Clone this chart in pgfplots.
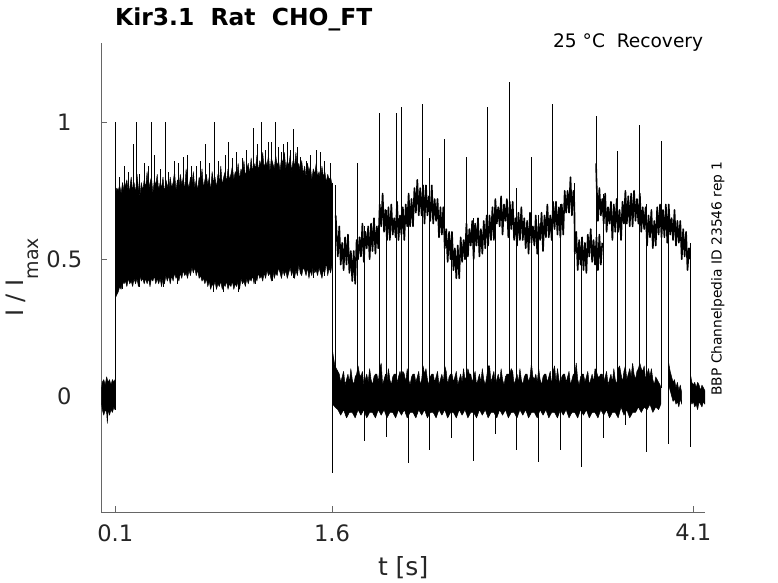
\documentclass[border=0pt]{standalone}
\usepackage{pgfplots}
\pgfplotsset{compat=1.18}
\usepackage{fontspec}
\setmainfont{DejaVu Sans}
\definecolor{axgray}{gray}{0.4}
\definecolor{txtgray}{gray}{0.15}
\begin{document}
\begin{tikzpicture}
\begin{axis}[name=ax, scale only axis, width=603.7bp, height=469bp,
 xmin=0.003, xmax=4.181, ymin=-0.425, ymax=1.289,
 axis x line*=bottom, axis y line*=left,
 axis line style={-, draw=axgray, line width=0.8bp},
 xtick={0.1,1.6,4.1}, ytick={0,0.5,1},
 tick align=inside, major tick length=6bp,
 tick style={draw=axgray, line width=0.8bp},
 /pgf/number format/assume math mode=true,
 ticklabel style={font=\fontsize{22.6bp}{27bp}\selectfont, text=txtgray},
 xticklabel style={inner sep=0pt, anchor=north, yshift=-12bp},
 yticklabel style={inner sep=0pt, anchor=center, xshift=-37bp},
 every axis plot/.append style={line join=round}]

% initial baseline segment
\addplot[fill=black, draw=black, line width=0.5bp] coordinates {
(0.003,0.02)(0.01,0.05)(0.02,0.06)(0.03,0.04)(0.04,0.07)(0.05,0.05)(0.06,0.06)(0.07,0.04)(0.08,0.06)(0.09,0.05)(0.098,0.06)
(0.098,-0.05)(0.09,-0.04)(0.08,-0.06)(0.07,-0.05)(0.06,-0.07)(0.05,-0.05)(0.045,-0.10)(0.04,-0.06)(0.03,-0.05)(0.02,-0.07)(0.01,-0.05)(0.003,-0.02)} -- cycle;

% first pulse band
\addplot[fill=black, draw=black, line width=0.5bp] coordinates {
(0.102,0.74)(0.11,0.76)(0.12,0.75)(0.13,0.77)(0.14,0.74)(0.15,0.78)(0.16,0.75)(0.17,0.77)(0.18,0.79)(0.19,0.74)
(0.20,0.76)(0.21,0.80)(0.22,0.75)(0.23,0.78)(0.24,0.74)(0.25,0.81)(0.26,0.76)(0.27,0.73)(0.28,0.78)(0.29,0.75)
(0.30,0.79)(0.31,0.76)(0.32,0.82)(0.33,0.75)(0.34,0.78)(0.35,0.80)(0.36,0.74)(0.37,0.79)(0.38,0.77)(0.39,0.81)
(0.40,0.75)(0.41,0.78)(0.42,0.76)(0.43,0.80)(0.44,0.74)(0.45,0.79)(0.46,0.77)(0.47,0.75)(0.48,0.80)(0.49,0.76)
(0.50,0.78)(0.51,0.82)(0.52,0.75)(0.53,0.79)(0.54,0.76)(0.55,0.81)(0.56,0.77)(0.57,0.80)(0.58,0.75)(0.59,0.83)
(0.60,0.78)(0.61,0.76)(0.62,0.80)(0.63,0.77)(0.64,0.82)(0.65,0.76)(0.66,0.79)(0.67,0.75)(0.68,0.80)(0.69,0.78)
(0.70,0.83)(0.71,0.76)(0.72,0.79)(0.73,0.81)(0.74,0.77)(0.75,0.80)(0.76,0.75)(0.77,0.82)(0.78,0.78)(0.79,0.80)
(0.80,0.76)(0.81,0.81)(0.82,0.78)(0.83,0.84)(0.84,0.77)(0.85,0.80)(0.86,0.82)(0.87,0.78)(0.88,0.83)(0.89,0.79)
(0.90,0.81)(0.91,0.84)(0.92,0.79)(0.93,0.82)(0.94,0.80)(0.95,0.85)(0.96,0.79)(0.97,0.83)(0.98,0.81)(0.99,0.86)
(1.00,0.80)(1.01,0.83)(1.02,0.85)(1.03,0.81)(1.04,0.87)(1.05,0.82)(1.06,0.85)(1.07,0.83)(1.08,0.88)(1.09,0.82)
(1.10,0.86)(1.11,0.84)(1.12,0.89)(1.13,0.83)(1.14,0.86)(1.15,0.84)(1.16,0.88)(1.17,0.82)(1.18,0.87)(1.19,0.85)
(1.20,0.83)(1.21,0.88)(1.22,0.84)(1.23,0.86)(1.24,0.82)(1.25,0.87)(1.26,0.85)(1.27,0.89)(1.28,0.83)(1.29,0.86)
(1.30,0.84)(1.31,0.88)(1.32,0.82)(1.33,0.86)(1.34,0.84)(1.35,0.89)(1.36,0.83)(1.37,0.85)(1.38,0.82)(1.39,0.86)
(1.40,0.81)(1.41,0.84)(1.42,0.80)(1.43,0.85)(1.44,0.82)(1.45,0.84)(1.46,0.79)(1.47,0.83)(1.48,0.81)(1.49,0.85)
(1.50,0.80)(1.51,0.82)(1.52,0.79)(1.53,0.84)(1.54,0.80)(1.55,0.82)(1.56,0.78)(1.57,0.81)(1.58,0.79)(1.59,0.80)(1.60,0.77)
(1.60,0.48)(1.59,0.45)(1.58,0.47)(1.57,0.44)(1.56,0.49)(1.55,0.45)(1.54,0.46)(1.53,0.43)(1.52,0.45)(1.51,0.47)
(1.50,0.44)(1.49,0.46)(1.48,0.45)(1.47,0.48)(1.46,0.44)(1.45,0.46)(1.44,0.43)(1.43,0.47)(1.42,0.44)(1.41,0.46)
(1.40,0.47)(1.39,0.44)(1.38,0.45)(1.37,0.48)(1.36,0.44)(1.35,0.46)(1.34,0.43)(1.33,0.46)(1.32,0.44)(1.31,0.47)
(1.30,0.45)(1.29,0.43)(1.28,0.46)(1.27,0.44)(1.26,0.46)(1.25,0.43)(1.24,0.45)(1.23,0.47)(1.22,0.44)(1.21,0.45)
(1.20,0.43)(1.19,0.46)(1.18,0.42)(1.17,0.45)(1.16,0.44)(1.15,0.46)(1.14,0.43)(1.13,0.45)(1.12,0.42)(1.11,0.44)
(1.10,0.43)(1.09,0.45)(1.08,0.42)(1.07,0.44)(1.06,0.41)(1.05,0.44)(1.04,0.42)(1.03,0.43)(1.02,0.41)(1.01,0.43)
(1.00,0.40)(0.99,0.42)(0.98,0.41)(0.97,0.43)(0.96,0.39)(0.95,0.42)(0.94,0.40)(0.93,0.41)(0.92,0.39)(0.91,0.42)
(0.90,0.40)(0.89,0.41)(0.88,0.39)(0.87,0.42)(0.86,0.40)(0.85,0.41)(0.84,0.39)(0.83,0.42)(0.82,0.40)(0.81,0.41)
(0.80,0.39)(0.79,0.42)(0.78,0.40)(0.77,0.41)(0.76,0.39)(0.75,0.42)(0.74,0.40)(0.73,0.43)(0.72,0.41)(0.71,0.43)
(0.70,0.42)(0.69,0.44)(0.68,0.43)(0.67,0.46)(0.66,0.44)(0.65,0.47)(0.64,0.45)(0.63,0.47)(0.62,0.44)(0.61,0.46)
(0.60,0.43)(0.59,0.45)(0.58,0.44)(0.57,0.46)(0.56,0.43)(0.55,0.45)(0.54,0.42)(0.53,0.44)(0.52,0.43)(0.51,0.45)
(0.50,0.42)(0.49,0.44)(0.48,0.41)(0.47,0.44)(0.46,0.42)(0.45,0.44)(0.44,0.41)(0.43,0.43)(0.42,0.40)(0.41,0.43)
(0.40,0.41)(0.39,0.43)(0.38,0.41)(0.37,0.44)(0.36,0.42)(0.35,0.43)(0.34,0.40)(0.33,0.43)(0.32,0.41)(0.31,0.43)
(0.30,0.41)(0.29,0.43)(0.28,0.42)(0.27,0.44)(0.26,0.40)(0.25,0.43)(0.24,0.41)(0.23,0.43)(0.22,0.40)(0.21,0.42)
(0.20,0.41)(0.19,0.43)(0.18,0.40)(0.17,0.42)(0.16,0.41)(0.15,0.42)(0.14,0.39)(0.13,0.40)(0.12,0.38)(0.11,0.37)(0.102,0.36)} -- cycle;

% baseline band after the pulse
\addplot[fill=black, draw=black, line width=0.5bp] coordinates {
(1.605,0.16)(1.61,0.14)(1.62,0.11)(1.63,0.10)(1.64,0.09)(1.65,0.08)(1.66,0.05)(1.67,0.07)(1.68,0.09)(1.69,0.04)
(1.70,0.06)(1.71,0.08)(1.72,0.05)(1.73,0.10)(1.74,0.06)(1.75,0.04)(1.76,0.07)(1.77,0.08)(1.78,0.11)(1.79,0.08)
(1.80,0.07)(1.81,0.09)(1.82,0.04)(1.83,0.06)(1.84,0.08)(1.85,0.05)(1.86,0.10)(1.87,0.06)(1.88,0.04)(1.89,0.07)
(1.90,0.08)(1.91,0.08)(1.92,0.05)(1.93,0.10)(1.94,0.12)(1.95,0.04)(1.96,0.06)(1.97,0.08)(1.98,0.05)(1.99,0.10)
(2.00,0.06)(2.01,0.04)(2.02,0.07)(2.03,0.08)(2.04,0.08)(2.05,0.05)(2.06,0.07)(2.07,0.09)(2.08,0.07)(2.09,0.09)
(2.10,0.08)(2.11,0.05)(2.12,0.10)(2.13,0.06)(2.14,0.04)(2.15,0.07)(2.16,0.08)(2.17,0.08)(2.18,0.05)(2.19,0.07)
(2.20,0.09)(2.21,0.04)(2.22,0.06)(2.23,0.11)(2.24,0.08)(2.25,0.10)(2.26,0.06)(2.27,0.04)(2.28,0.07)(2.29,0.08)
(2.30,0.08)(2.31,0.05)(2.32,0.07)(2.33,0.09)(2.34,0.04)(2.35,0.06)(2.36,0.08)(2.37,0.05)(2.38,0.11)(2.39,0.09)
(2.40,0.04)(2.41,0.07)(2.42,0.08)(2.43,0.08)(2.44,0.05)(2.45,0.07)(2.46,0.09)(2.47,0.04)(2.48,0.06)(2.49,0.08)
(2.50,0.05)(2.51,0.10)(2.52,0.06)(2.53,0.07)(2.54,0.10)(2.55,0.08)(2.56,0.08)(2.57,0.05)(2.58,0.07)(2.59,0.09)
(2.60,0.04)(2.61,0.06)(2.62,0.08)(2.63,0.05)(2.64,0.10)(2.65,0.06)(2.66,0.04)(2.67,0.07)(2.68,0.11)(2.69,0.11)
(2.70,0.05)(2.71,0.07)(2.72,0.09)(2.73,0.04)(2.74,0.06)(2.75,0.08)(2.76,0.05)(2.77,0.10)(2.78,0.06)(2.79,0.04)
(2.80,0.07)(2.81,0.08)(2.82,0.08)(2.83,0.08)(2.84,0.10)(2.85,0.09)(2.86,0.04)(2.87,0.06)(2.88,0.08)(2.89,0.05)
(2.90,0.10)(2.91,0.06)(2.92,0.04)(2.93,0.07)(2.94,0.08)(2.95,0.08)(2.96,0.05)(2.97,0.07)(2.98,0.12)(2.99,0.07)
(3.00,0.06)(3.01,0.08)(3.02,0.05)(3.03,0.10)(3.04,0.06)(3.05,0.04)(3.06,0.07)(3.07,0.08)(3.08,0.08)(3.09,0.05)
(3.10,0.07)(3.11,0.09)(3.12,0.04)(3.13,0.09)(3.14,0.11)(3.15,0.05)(3.16,0.10)(3.17,0.06)(3.18,0.04)(3.19,0.07)
(3.20,0.08)(3.21,0.08)(3.22,0.05)(3.23,0.07)(3.24,0.09)(3.25,0.04)(3.26,0.06)(3.27,0.08)(3.28,0.08)(3.29,0.12)
(3.30,0.06)(3.31,0.04)(3.32,0.07)(3.33,0.08)(3.34,0.08)(3.35,0.05)(3.36,0.07)(3.37,0.09)(3.38,0.04)(3.39,0.06)
(3.40,0.08)(3.41,0.05)(3.42,0.10)(3.43,0.09)(3.44,0.07)(3.45,0.07)(3.46,0.08)(3.47,0.08)(3.48,0.05)(3.49,0.07)
(3.50,0.09)(3.51,0.04)(3.52,0.06)(3.53,0.08)(3.54,0.05)(3.55,0.10)(3.56,0.06)(3.57,0.04)(3.58,0.10)(3.59,0.11)
(3.60,0.08)(3.61,0.05)(3.62,0.09)(3.63,0.11)(3.64,0.06)(3.65,0.08)(3.66,0.10)(3.67,0.07)(3.68,0.12)(3.69,0.08)
(3.70,0.06)(3.71,0.09)(3.72,0.10)(3.73,0.12)(3.74,0.10)(3.75,0.09)(3.76,0.11)(3.77,0.06)(3.78,0.08)(3.79,0.10)
(3.80,0.07)(3.81,0.10)(3.82,0.06)(3.83,0.04)(3.84,0.07)(3.85,0.06)(3.86,0.05)(3.87,0.04)(3.875,0.03)
(3.875,-0.03)(3.86,-0.05)(3.84,-0.04)(3.82,-0.06)(3.80,-0.03)(3.78,-0.05)(3.76,-0.04)(3.74,-0.06)(3.72,-0.04)(3.70,-0.06)
(3.68,-0.06)(3.66,-0.08)(3.64,-0.05)(3.62,-0.07)(3.60,-0.04)(3.58,-0.08)(3.56,-0.06)(3.54,-0.06)(3.52,-0.08)(3.50,-0.05)
(3.48,-0.07)(3.46,-0.05)(3.44,-0.08)(3.42,-0.06)(3.40,-0.06)(3.38,-0.08)(3.36,-0.05)(3.34,-0.07)(3.32,-0.05)(3.30,-0.08)
(3.28,-0.06)(3.26,-0.06)(3.24,-0.08)(3.22,-0.05)(3.20,-0.07)(3.18,-0.05)(3.16,-0.08)(3.14,-0.06)(3.12,-0.06)(3.10,-0.08)
(3.08,-0.05)(3.06,-0.07)(3.04,-0.05)(3.02,-0.08)(3.00,-0.06)(2.98,-0.06)(2.96,-0.08)(2.94,-0.05)(2.92,-0.07)(2.90,-0.05)
(2.88,-0.08)(2.86,-0.06)(2.84,-0.06)(2.82,-0.08)(2.80,-0.05)(2.78,-0.07)(2.76,-0.05)(2.74,-0.08)(2.72,-0.06)(2.70,-0.06)
(2.68,-0.08)(2.66,-0.05)(2.64,-0.07)(2.62,-0.05)(2.60,-0.08)(2.58,-0.06)(2.56,-0.06)(2.54,-0.08)(2.52,-0.05)(2.50,-0.07)
(2.48,-0.05)(2.46,-0.08)(2.44,-0.06)(2.42,-0.06)(2.40,-0.08)(2.38,-0.05)(2.36,-0.07)(2.34,-0.05)(2.32,-0.08)(2.30,-0.06)
(2.28,-0.06)(2.26,-0.08)(2.24,-0.05)(2.22,-0.07)(2.20,-0.05)(2.18,-0.08)(2.16,-0.06)(2.14,-0.06)(2.12,-0.08)(2.10,-0.05)
(2.08,-0.07)(2.06,-0.05)(2.04,-0.08)(2.02,-0.06)(2.00,-0.06)(1.98,-0.08)(1.96,-0.05)(1.94,-0.07)(1.92,-0.05)(1.90,-0.08)
(1.88,-0.06)(1.86,-0.06)(1.84,-0.08)(1.82,-0.05)(1.80,-0.07)(1.78,-0.05)(1.76,-0.08)(1.74,-0.06)(1.72,-0.06)(1.70,-0.08)
(1.68,-0.05)(1.66,-0.07)(1.64,-0.05)(1.62,-0.04)(1.605,-0.03)} -- cycle;

% late baseline pieces
\addplot[fill=black, draw=black, line width=0.5bp] coordinates {
(3.93,0.12)(3.94,0.09)(3.95,0.07)(3.96,0.05)(3.97,0.06)(3.98,0.03)(3.99,0.05)(4.00,0.02)(4.01,0.04)(4.02,0.01)
(4.02,-0.03)(4.01,-0.01)(4.00,-0.04)(3.99,-0.02)(3.98,-0.03)(3.97,-0.01)(3.96,-0.02)(3.95,0.00)(3.94,0.02)(3.93,0.04)} -- cycle;
\addplot[fill=black, draw=black, line width=0.5bp] coordinates {
(4.08,0.08)(4.09,0.05)(4.10,0.04)(4.11,0.05)(4.12,0.03)(4.13,0.05)(4.14,0.04)(4.15,0.02)(4.16,0.04)(4.17,0.03)(4.18,0.02)
(4.18,-0.03)(4.17,-0.02)(4.16,-0.04)(4.15,-0.03)(4.14,-0.02)(4.13,-0.05)(4.12,-0.03)(4.11,-0.04)(4.10,-0.02)(4.09,-0.03)(4.08,-0.01)} -- cycle;

% upper trace after the pulse
\addplot[black, line width=1.6bp] coordinates {
(1.625,0.66)(1.63,0.61)(1.64,0.51)(1.65,0.62)(1.66,0.48)(1.67,0.56)(1.68,0.46)(1.69,0.58)(1.70,0.48)(1.71,0.59)
(1.72,0.45)(1.73,0.53)(1.74,0.42)(1.75,0.53)(1.76,0.41)(1.77,0.57)(1.78,0.50)(1.79,0.58)(1.80,0.51)(1.81,0.63)
(1.82,0.49)(1.83,0.60)(1.84,0.54)(1.85,0.62)(1.86,0.50)(1.87,0.63)(1.88,0.53)(1.89,0.65)(1.90,0.52)(1.91,0.62)
(1.92,0.54)(1.93,0.70)(1.94,0.62)(1.95,0.74)(1.96,0.60)(1.97,0.68)(1.98,0.57)(1.99,0.69)(2.00,0.57)(2.01,0.70)
(2.02,0.59)(2.03,0.65)(2.04,0.58)(2.05,0.71)(2.06,0.57)(2.07,0.66)(2.08,0.59)(2.09,0.69)(2.10,0.57)(2.11,0.70)
(2.12,0.62)(2.13,0.74)(2.14,0.62)(2.15,0.72)(2.16,0.62)(2.17,0.76)(2.18,0.67)(2.19,0.79)(2.20,0.66)(2.21,0.76)
(2.22,0.66)(2.23,0.77)(2.24,0.63)(2.25,0.77)(2.26,0.66)(2.27,0.73)(2.28,0.64)(2.29,0.77)(2.30,0.63)(2.31,0.72)
(2.32,0.64)(2.33,0.72)(2.34,0.58)(2.35,0.69)(2.36,0.59)(2.37,0.69)(2.38,0.54)(2.39,0.61)(2.40,0.49)(2.41,0.60)
(2.42,0.50)(2.43,0.60)(2.44,0.46)(2.45,0.54)(2.46,0.43)(2.47,0.55)(2.48,0.43)(2.49,0.58)(2.50,0.49)(2.51,0.57)
(2.52,0.50)(2.53,0.63)(2.54,0.51)(2.55,0.61)(2.56,0.55)(2.57,0.64)(2.58,0.50)(2.59,0.63)(2.60,0.55)(2.61,0.65)
(2.62,0.51)(2.63,0.61)(2.64,0.52)(2.65,0.64)(2.66,0.54)(2.67,0.66)(2.68,0.55)(2.69,0.66)(2.70,0.57)(2.71,0.69)
(2.72,0.57)(2.73,0.72)(2.74,0.63)(2.75,0.69)(2.76,0.62)(2.77,0.73)(2.78,0.59)(2.79,0.70)(2.80,0.64)(2.81,0.72)
(2.82,0.58)(2.83,0.71)(2.84,0.61)(2.85,0.71)(2.86,0.57)(2.87,0.65)(2.88,0.55)(2.89,0.67)(2.90,0.57)(2.91,0.69)
(2.92,0.57)(2.93,0.65)(2.94,0.54)(2.95,0.64)(2.96,0.52)(2.97,0.67)(2.98,0.56)(2.99,0.62)(3.00,0.55)(3.01,0.66)
(3.02,0.52)(3.03,0.63)(3.04,0.57)(3.05,0.67)(3.06,0.53)(3.07,0.66)(3.08,0.58)(3.09,0.70)(3.10,0.58)(3.11,0.66)
(3.12,0.57)(3.13,0.71)(3.14,0.61)(3.15,0.71)(3.16,0.59)(3.17,0.69)(3.18,0.58)(3.19,0.70)(3.20,0.59)(3.21,0.75)
(3.22,0.67)(3.23,0.75)(3.24,0.67)(3.25,0.80)(3.26,0.66)(3.27,0.75)(3.277,0.70)(3.28,0.52)(3.29,0.60)(3.30,0.46)
(3.31,0.57)(3.32,0.48)(3.33,0.58)(3.34,0.46)(3.35,0.56)(3.36,0.45)(3.37,0.59)(3.38,0.51)(3.39,0.61)(3.40,0.49)
(3.41,0.57)(3.42,0.48)(3.43,0.58)(3.44,0.46)(3.45,0.59)(3.46,0.48)(3.47,0.56)};
\addplot[black, line width=1.6bp] coordinates {
(3.427,0.85)(3.43,0.79)(3.44,0.64)(3.45,0.76)(3.46,0.66)(3.47,0.72)(3.48,0.63)(3.49,0.74)(3.50,0.60)(3.51,0.69)
(3.52,0.63)(3.53,0.71)(3.54,0.57)(3.55,0.70)(3.56,0.60)(3.57,0.72)(3.58,0.60)(3.59,0.68)(3.60,0.57)(3.61,0.71)
(3.62,0.63)(3.63,0.75)(3.64,0.63)(3.65,0.73)(3.66,0.62)(3.67,0.74)(3.68,0.62)(3.69,0.75)(3.70,0.64)(3.71,0.72)
(3.72,0.63)(3.73,0.74)(3.74,0.60)(3.75,0.69)(3.76,0.61)(3.77,0.69)(3.78,0.55)(3.79,0.66)(3.80,0.58)(3.81,0.68)
(3.82,0.54)(3.83,0.64)(3.84,0.55)(3.85,0.69)(3.86,0.59)(3.87,0.70)(3.88,0.58)(3.89,0.68)(3.90,0.58)(3.91,0.70)
(3.92,0.56)(3.93,0.70)(3.94,0.59)(3.95,0.65)(3.96,0.57)(3.97,0.68)(3.98,0.55)(3.99,0.64)(4.00,0.56)(4.01,0.64)
(4.02,0.50)(4.03,0.61)(4.04,0.51)(4.05,0.60)(4.06,0.46)(4.07,0.54)(4.075,0.50)};

% transients (vertical spikes)
\addplot[black, line width=0.8bp, unbounded coords=jump] table {
x y
0.100 -0.05
0.100 1.00
nan nan
0.130 0.74
0.130 0.80
nan nan
0.160 0.74
0.160 0.84
nan nan
0.190 0.74
0.190 0.82
nan nan
0.225 0.74
0.225 0.92
nan nan
0.248 0.74
0.248 1.00
nan nan
0.270 0.74
0.270 0.81
nan nan
0.300 0.75
0.300 0.85
nan nan
0.330 0.75
0.330 0.84
nan nan
0.352 0.75
0.352 1.00
nan nan
0.368 0.75
0.368 0.88
nan nan
0.410 0.75
0.410 0.83
nan nan
0.449 0.75
0.449 1.00
nan nan
0.470 0.75
0.470 0.82
nan nan
0.510 0.76
0.510 0.86
nan nan
0.540 0.76
0.540 0.85
nan nan
0.570 0.76
0.570 0.875
nan nan
0.600 0.76
0.600 0.88
nan nan
0.630 0.76
0.630 0.84
nan nan
0.660 0.76
0.660 0.84
nan nan
0.690 0.77
0.690 0.86
nan nan
0.720 0.77
0.720 0.92
nan nan
0.750 0.77
0.750 0.85
nan nan
0.783 0.77
0.783 1.00
nan nan
0.810 0.78
0.810 0.86
nan nan
0.860 0.78
0.860 0.88
nan nan
0.882 0.78
0.882 0.93
nan nan
0.910 0.79
0.910 0.87
nan nan
0.940 0.79
0.940 0.89
nan nan
0.980 0.80
0.980 0.87
nan nan
1.010 0.80
1.010 0.90
nan nan
1.055 0.81
1.055 0.98
nan nan
1.080 0.82
1.080 0.92
nan nan
1.113 0.82
1.113 1.00
nan nan
1.140 0.83
1.140 0.90
nan nan
1.159 0.83
1.159 0.93
nan nan
1.180 0.83
1.180 0.93
nan nan
1.205 0.83
1.205 1.00
nan nan
1.230 0.83
1.230 0.91
nan nan
1.250 0.83
1.250 0.89
nan nan
1.263 0.83
1.263 0.92
nan nan
1.290 0.83
1.290 0.93
nan nan
1.310 0.83
1.310 0.90
nan nan
1.332 0.83
1.332 0.976
nan nan
1.360 0.82
1.360 0.91
nan nan
1.378 0.82
1.378 0.875
nan nan
1.420 0.81
1.420 0.86
nan nan
1.450 0.81
1.450 0.88
nan nan
1.490 0.80
1.490 0.90
nan nan
1.517 0.80
1.517 0.89
nan nan
1.550 0.79
1.550 0.86
nan nan
1.586 0.78
1.586 0.85
nan nan
0.150 0.45
0.150 0.39
nan nan
0.270 0.46
0.270 0.40
nan nan
0.430 0.46
0.430 0.40
nan nan
0.530 0.47
0.530 0.41
nan nan
0.780 0.44
0.780 0.38
nan nan
0.850 0.44
0.850 0.38
nan nan
0.950 0.44
0.950 0.38
nan nan
1.070 0.46
1.070 0.41
nan nan
1.190 0.48
1.190 0.42
nan nan
1.330 0.48
1.330 0.43
nan nan
1.470 0.49
1.470 0.43
nan nan
1.550 0.49
1.550 0.44
nan nan
1.600 0.78
1.600 -0.28
nan nan
1.623 0.05
1.623 0.77
nan nan
1.777 0.05
1.777 0.852
nan nan
1.827 0.62
1.827 -0.163
nan nan
1.927 0.05
1.927 1.035
nan nan
1.977 0.68
1.977 -0.149
nan nan
2.043 0.05
2.043 1.035
nan nan
2.077 0.05
2.077 1.055
nan nan
2.127 0.72
2.127 -0.244
nan nan
2.227 0.05
2.227 1.066
nan nan
2.277 0.868
2.277 -0.197
nan nan
2.377 0.05
2.377 0.938
nan nan
2.427 0.60
2.427 -0.152
nan nan
2.527 0.05
2.527 0.872
nan nan
2.577 0.65
2.577 -0.238
nan nan
2.677 0.05
2.677 1.055
nan nan
2.727 0.70
2.727 -0.14
nan nan
2.827 0.05
2.827 1.148
nan nan
2.877 0.76
2.877 -0.197
nan nan
2.977 0.05
2.977 0.874
nan nan
3.027 0.66
3.027 -0.24
nan nan
3.127 0.05
3.127 1.066
nan nan
3.177 0.70
3.177 -0.197
nan nan
3.277 0.05
3.277 0.777
nan nan
3.327 0.58
3.327 -0.261
nan nan
3.427 0.05
3.427 1.023
nan nan
3.477 0.74
3.477 -0.155
nan nan
3.577 0.05
3.577 0.895
nan nan
3.627 0.74
3.627 -0.106
nan nan
3.727 0.05
3.727 0.992
nan nan
3.777 0.70
3.777 -0.206
nan nan
3.877 0.03
3.877 0.932
nan nan
3.927 0.70
3.927 -0.175
nan nan
4.077 0.56
4.077 -0.185
};
\end{axis}

\node[anchor=base west, inner sep=0pt, font=\bfseries\fontsize{23.4bp}{28bp}\selectfont]
  at ([xshift=13.7bp, yshift=17.3bp]ax.north west) {Kir3.1\ \ Rat\ \ CHO\_FT};
\node[anchor=base east, inner sep=0pt, font=\fontsize{18.6bp}{22bp}\selectfont]
  at ([xshift=-1.7bp, yshift=-4bp]ax.north east) {25 °C\ \ Recovery};
\node[anchor=base, inner sep=0pt, rotate=90, font=\fontsize{13.8bp}{16bp}\selectfont]
  at ([xshift=620.4bp, yshift=233.8bp]ax.south west) {BBP Channelpedia ID 23546 rep 1};
\node[anchor=base, inner sep=0pt, text=txtgray, font=\fontsize{25bp}{30bp}\selectfont]
  at ([yshift=-62.7bp]ax.south) {t [s]};
\node[anchor=base, inner sep=0pt, rotate=90, text=txtgray, font=\fontsize{24bp}{29bp}\selectfont]
  at ([xshift=-78bp, yshift=234.8bp]ax.south west) {I / I\raisebox{-15bp}{\fontsize{19bp}{19bp}\selectfont max}};

\pgfresetboundingbox
\path[use as bounding box] ([xshift=-101.3bp, yshift=-70.7bp]ax.south west) rectangle ++(778bp,583bp);
\end{tikzpicture}
\end{document}
